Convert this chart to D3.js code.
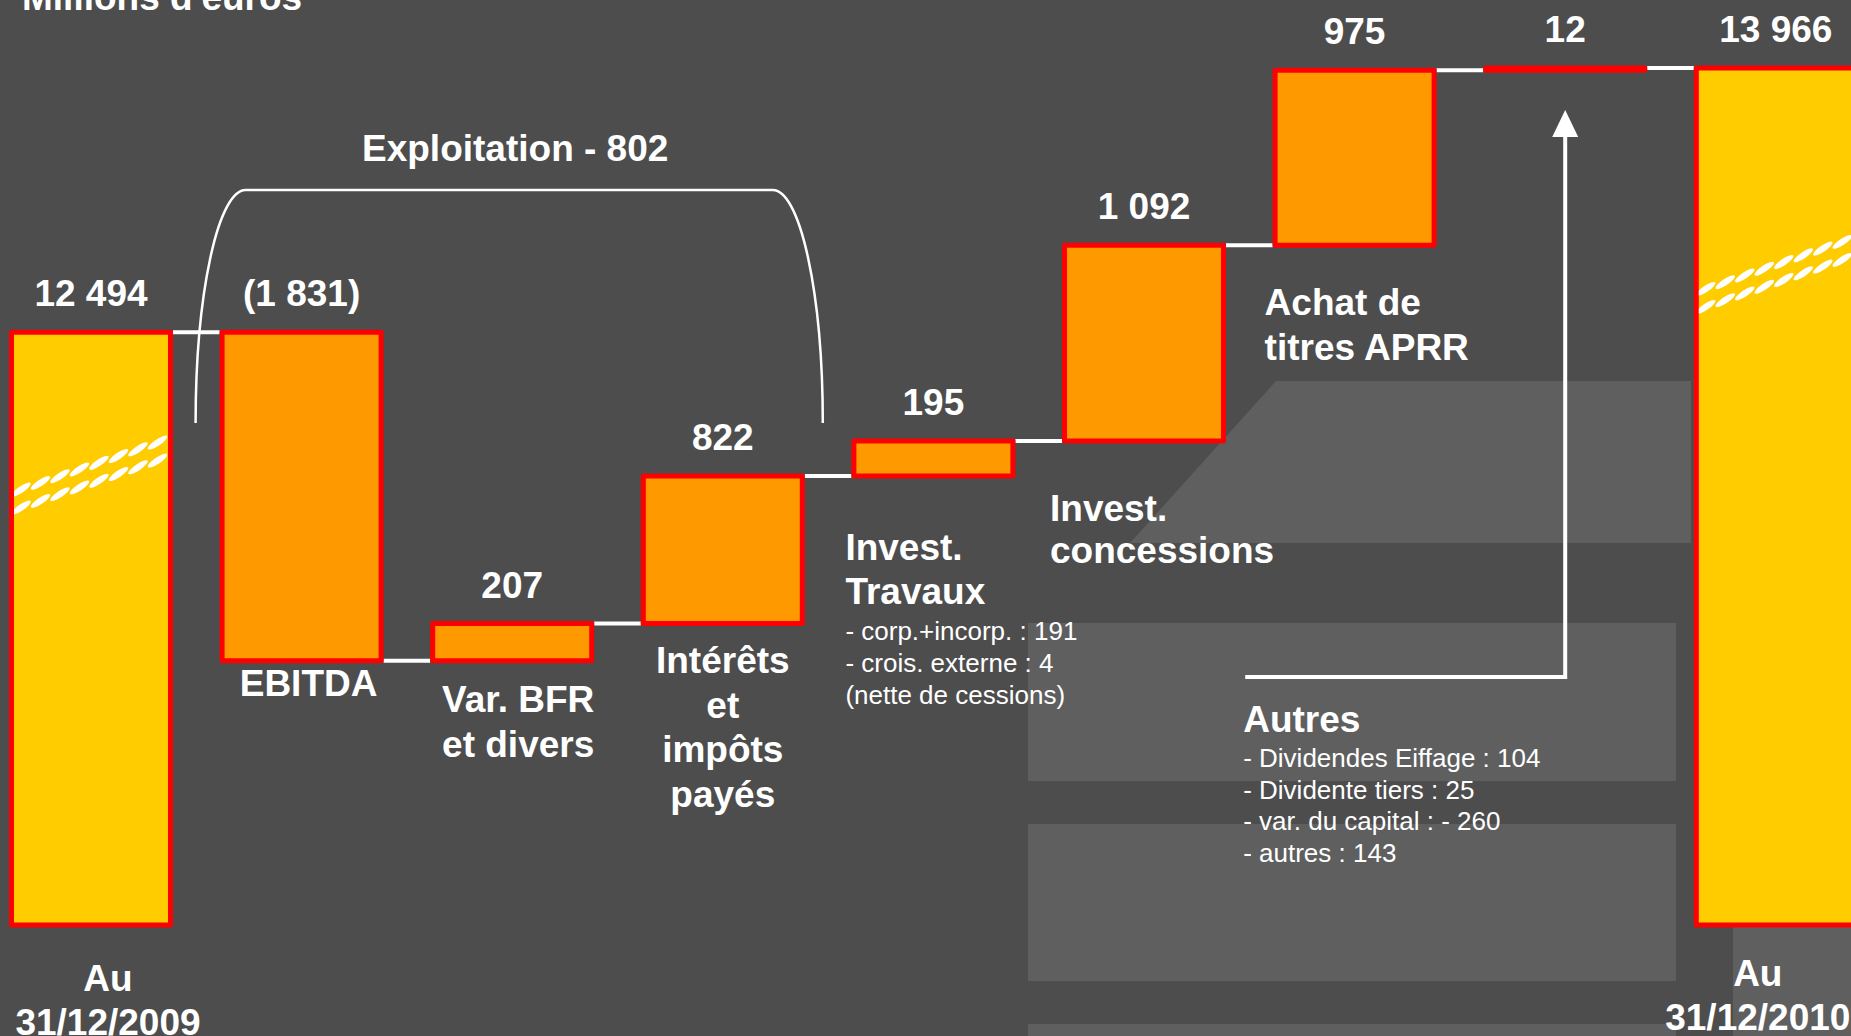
<!DOCTYPE html>
<html>
<head>
<meta charset="utf-8">
<script src="https://cdn.jsdelivr.net/npm/d3@7/dist/d3.min.js"></script>
<style>
  html, body { margin: 0; padding: 0; background: #4D4D4D; }
  svg { display: block; }
  text { font-family: "Liberation Sans", Arial, Helvetica, sans-serif; fill: #FFFFFF; }
</style>
</head>
<body>
<svg id="chart" width="1851" height="1036"></svg>
<script>
// ---------------- DATA ----------------
const unitLabel = "Millions d'euros";
const categories = ["Au 31/12/2009", "EBITDA", "Var. BFR et divers", "Intérêts et impôts payés",
  "Invest. Travaux", "Invest. concessions", "Achat de titres APRR", "Autres", "Au 31/12/2010"];
const values = [12494, -1831, 207, 822, 195, 1092, 975, 12, 13966];
const kinds = ["total", "delta", "delta", "delta", "delta", "delta", "delta", "delta", "total"];
const valueLabels = ["12 494", "(1 831)", "207", "822", "195", "1 092", "975", "12", "13 966"];
const categoryLines = [["Au", "31/12/2009"], ["EBITDA"], ["Var. BFR", "et divers"],
  ["Intérêts", "et", "impôts", "payés"], ["Invest.", "Travaux"], ["Invest.", "concessions"],
  ["Achat de", "titres APRR"], ["Autres"], ["Au", "31/12/2010"]];
const travauxDetails = ["- corp.+incorp. : 191", "- crois. externe : 4", "(nette de cessions)"];
const autresDetails = ["- Dividendes Eiffage : 104", "- Dividente tiers : 25", "- var. du capital : - 260", "- autres : 143"];
const groupLabel = "Exploitation - 802";
const groupFrom = "EBITDA", groupTo = "Intérêts et impôts payés";

// ---------------- LAYOUT ----------------
const W = 1851, H = 1036;
const BG = "#4D4D4D", PANEL = "#5F5F5F";
const TOTAL_FILL = "#FFCC00", DELTA_FILL = "#FF9900", BORDER = "#FF0000";
const SW = 5;

const svg = d3.select("#chart");
svg.append("rect").attr("width", W).attr("height", H).attr("fill", BG);

// background decoration panels
const deco = svg.append("g");
deco.append("path").attr("d", "M1276,381 L1691,381 L1691,543 L1130,543 Z").attr("fill", PANEL);
[[1028, 623, 648, 158], [1028, 824, 648, 157], [1028, 1024, 648, 20], [1733, 927, 130, 120]]
  .forEach(r => deco.append("rect").attr("x", r[0]).attr("y", r[1]).attr("width", r[2]).attr("height", r[3]).attr("fill", PANEL));

// scales
const x = d3.scaleBand().domain(categories).range([9, 9 + 8 * 210.6 + 164]).paddingInner(46.6 / 210.6).paddingOuter(0);
const y = d3.scaleLinear().domain([9190, 14000]).range([925, 62]);
const bw = x.bandwidth();
const yBase = y.range()[0];

// waterfall computation
let level = 0;
const bars = categories.map((c, i) => {
  let start, end;
  if (kinds[i] === "total") { start = null; end = values[i]; level = values[i]; }
  else { start = level; end = level + values[i]; level = end; }
  return { cat: c, i, kind: kinds[i], start, end, value: values[i] };
});

// connectors
const conn = svg.append("g");
bars.forEach((b, i) => {
  if (i === bars.length - 1) return;
  conn.append("line")
    .attr("x1", x(b.cat) + bw).attr("x2", x(bars[i + 1].cat))
    .attr("y1", y(b.end)).attr("y2", y(b.end))
    .attr("stroke", "#FFFFFF").attr("stroke-width", 4);
});

// bars
const gBars = svg.append("g");
bars.forEach(b => {
  let top, bottom;
  if (b.kind === "total") { top = y(b.end); bottom = yBase; }
  else { top = y(Math.max(b.start, b.end)); bottom = y(Math.min(b.start, b.end)); }
  gBars.append("rect")
    .attr("x", x(b.cat) + SW / 2).attr("y", top)
    .attr("width", bw - SW).attr("height", Math.max(0.5, bottom - top))
    .attr("fill", b.kind === "total" ? TOTAL_FILL : DELTA_FILL)
    .attr("stroke", BORDER).attr("stroke-width", SW).attr("stroke-linejoin", "round");
  b.top = top; b.bottom = bottom;
});

// axis-break marks on total bars
const defs = svg.append("defs");
bars.filter(b => b.kind === "total").forEach((b, k) => {
  const id = "clip" + k;
  defs.append("clipPath").attr("id", id).append("rect")
    .attr("x", x(b.cat) + SW).attr("y", b.top).attr("width", bw - 2 * SW).attr("height", b.bottom - b.top);
  const g = svg.append("g").attr("clip-path", `url(#${id})`);
  const xm = x(b.cat) + bw / 2;
  const yc = b.top + (b.bottom - b.top) * 0.24;
  const slope = Math.tan(-19 * Math.PI / 180);
  [-9, 9].forEach(off => {
    for (let px = x(b.cat) + 12; px <= x(b.cat) + bw - 8; px += 19.5) {
      const py = yc + off + slope * (px - xm);
      g.append("ellipse").attr("cx", 0).attr("cy", 0).attr("rx", 11.5).attr("ry", 3.2)
        .attr("transform", `translate(${px},${py}) rotate(-34)`)
        .attr("fill", "#FFFFFF");
    }
  });
});

// value labels
svg.append("g").selectAll("text").data(bars).join("text")
  .attr("x", b => x(b.cat) + bw / 2)
  .attr("y", b => b.top - 26)
  .attr("text-anchor", "middle")
  .attr("font-size", 37).attr("font-weight", "bold")
  .text((b, i) => valueLabels[i]);

// category labels (layout per category)
const catLayout = [
  { anchor: "middle", ref: "center", dx: 17, y0: 991, lh: 44 },
  { anchor: "middle", ref: "center", dx: 7, y0: 696, lh: 44 },
  { anchor: "middle", ref: "center", dx: 6, y0: 712, lh: 45 },
  { anchor: "middle", ref: "center", dx: 0, y0: 673, lh: 44.5 },
  { anchor: "start", ref: "left", dx: -6, y0: 560, lh: 44 },
  { anchor: "start", ref: "left", dx: -12, y0: 521, lh: 42 },
  { anchor: "start", ref: "left", dx: -8, y0: 315, lh: 44.5 },
  { anchor: "start", ref: "left", dx: -240, y0: 732, lh: 44 },
  { anchor: "middle", ref: "center", dx: -18, y0: 986, lh: 44 }
];
const catX = i => (catLayout[i].ref === "center" ? x(categories[i]) + bw / 2 : x(categories[i])) + catLayout[i].dx;
const gCat = svg.append("g");
categoryLines.forEach((lines, i) => {
  const L = catLayout[i];
  const t = gCat.append("text").attr("text-anchor", L.anchor).attr("font-size", 37).attr("font-weight", "bold");
  lines.forEach((ln, j) => t.append("tspan").attr("x", catX(i)).attr("y", L.y0 + j * L.lh).text(ln));
});

// detail lines
function details(lines, idx, y0, lh) {
  const t = svg.append("text").attr("font-size", 26).attr("text-anchor", "start");
  lines.forEach((ln, j) => t.append("tspan").attr("x", catX(idx)).attr("y", y0 + j * lh).text(ln));
}
details(travauxDetails, 4, 640, 32);
details(autresDetails, 7, 767, 31.7);

// brace for "Exploitation"
const bx0 = x(groupFrom) - 24, bx1 = x(groupTo) + bw + 18, bTop = 190, bBot = 423, br = 50;
svg.append("path")
  .attr("d", `M${bx0},${bBot} A${br},${bBot - bTop} 0 0 1 ${bx0 + br},${bTop} L${bx1 - br},${bTop} A${br},${bBot - bTop} 0 0 1 ${bx1},${bBot}`)
  .attr("fill", "none").attr("stroke", "#FFFFFF").attr("stroke-width", 2.5);
svg.append("text").attr("x", (bx0 + bx1) / 2 + 6).attr("y", 161).attr("text-anchor", "middle")
  .attr("font-size", 37).attr("font-weight", "bold").text(groupLabel);

// arrow from "Autres" to its bar
const ax = x("Autres") + bw / 2;
const axStart = catX(7) + 2;
svg.append("path").attr("d", `M${axStart},677 H${ax} V134`)
  .attr("fill", "none").attr("stroke", "#FFFFFF").attr("stroke-width", 4);
svg.append("path").attr("d", `M${ax - 13},137 L${ax},110 L${ax + 13},137 Z`).attr("fill", "#FFFFFF");

// unit title (partially cut at top)
svg.append("text").attr("x", 22).attr("y", 10).attr("font-size", 37).attr("font-weight", "bold").text(unitLabel);
</script>
</body>
</html>
